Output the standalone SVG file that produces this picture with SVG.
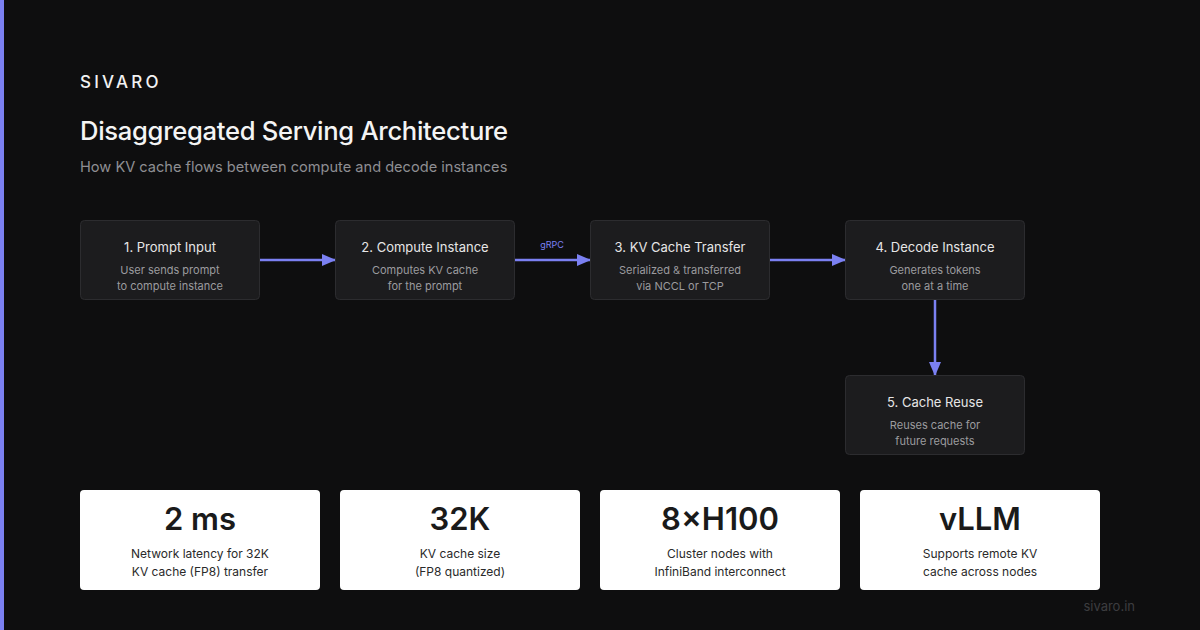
<svg xmlns="http://www.w3.org/2000/svg" width="1200" height="630" viewBox="0 0 1200 630">
<defs>
<style>
.node rect{fill:#1c1c1e;stroke:#2c2c2f;stroke-width:1}
.nt{font-family:Inter,"Liberation Sans",sans-serif;font-size:13px;fill:#e6e6e6;text-anchor:middle}
.ns{font-family:Inter,"Liberation Sans",sans-serif;font-size:11px;fill:#9b9b9f;text-anchor:middle}
.card rect{fill:#ffffff}
.cn{font-family:Inter,"Liberation Sans",sans-serif;font-size:31px;font-weight:600;fill:#1a1a1a;text-anchor:middle}
.cs{font-family:Inter,"Liberation Sans",sans-serif;font-size:12px;fill:#2a2a2a;text-anchor:middle}
.conn line{stroke:#7b80f2;stroke-width:2.5}
</style>
<marker id="ah" markerWidth="14" markerHeight="12" refX="13" refY="6" orient="auto" markerUnits="userSpaceOnUse">
<path d="M0,0 L14,6 L0,12 Z" fill="#7b80f2"/>
</marker>
</defs>
<rect width="1200" height="630" fill="#0e0e0f"/>
<rect x="0" y="0" width="4" height="630" fill="#7b80f2"/>
<text x="80" y="88" font-family="Inter,'Liberation Sans',sans-serif" font-size="17" font-weight="500" letter-spacing="3.2" fill="#f2f2f2">SIVARO</text>
<text x="80" y="140" font-family="Inter,'Liberation Sans',sans-serif" font-size="25.6" font-weight="500" fill="#f4f4f4" letter-spacing="-0.3">Disaggregated Serving Architecture</text>
<text x="80" y="172" font-family="Inter,'Liberation Sans',sans-serif" font-size="14.6" fill="#8e8e93">How KV cache flows between compute and decode instances</text>

<g class="conn">
<line x1="260" y1="260" x2="335" y2="260" marker-end="url(#ah)"/>
<line x1="515" y1="260" x2="590" y2="260" marker-end="url(#ah)"/>
<line x1="770" y1="260" x2="845" y2="260" marker-end="url(#ah)"/>
<line x1="935" y1="300" x2="935" y2="375" marker-end="url(#ah)"/>
<text x="552" y="248" font-family="Inter,'Liberation Sans',sans-serif" font-size="9" fill="#7b80f2" text-anchor="middle">gRPC</text>
</g>

<g id="n1" class="node"><rect x="80.5" y="220.5" width="179" height="79" rx="4"/><text class="nt" x="170" y="252">1. Prompt Input</text><text class="ns" x="170" y="274">User sends prompt</text><text class="ns" x="170" y="290">to compute instance</text></g>
<g id="n2" class="node"><rect x="335.5" y="220.5" width="179" height="79" rx="4"/><text class="nt" x="425" y="252">2. Compute Instance</text><text class="ns" x="425" y="274">Computes KV cache</text><text class="ns" x="425" y="290">for the prompt</text></g>
<g id="n3" class="node"><rect x="590.5" y="220.5" width="179" height="79" rx="4"/><text class="nt" x="680" y="252">3. KV Cache Transfer</text><text class="ns" x="680" y="274">Serialized &amp; transferred</text><text class="ns" x="680" y="290">via NCCL or TCP</text></g>
<g id="n4" class="node"><rect x="845.5" y="220.5" width="179" height="79" rx="4"/><text class="nt" x="935" y="252">4. Decode Instance</text><text class="ns" x="935" y="274">Generates tokens</text><text class="ns" x="935" y="290">one at a time</text></g>
<g id="n5" class="node"><rect x="845.5" y="375.5" width="179" height="79" rx="4"/><text class="nt" x="935" y="407">5. Cache Reuse</text><text class="ns" x="935" y="429">Reuses cache for</text><text class="ns" x="935" y="445">future requests</text></g>

<g id="s1" class="card"><rect x="80" y="490" width="240" height="100" rx="4"/><text class="cn" x="200" y="530">2 ms</text><text class="cs" x="200" y="558">Network latency for 32K</text><text class="cs" x="200" y="576">KV cache (FP8) transfer</text></g>
<g id="s2" class="card"><rect x="340" y="490" width="240" height="100" rx="4"/><text class="cn" x="460" y="530">32K</text><text class="cs" x="460" y="558">KV cache size</text><text class="cs" x="460" y="576">(FP8 quantized)</text></g>
<g id="s3" class="card"><rect x="600" y="490" width="240" height="100" rx="4"/><text class="cn" x="720" y="530">8×H100</text><text class="cs" x="720" y="558">Cluster nodes with</text><text class="cs" x="720" y="576">InfiniBand interconnect</text></g>
<g id="s4" class="card"><rect x="860" y="490" width="240" height="100" rx="4"/><text class="cn" x="980" y="530">vLLM</text><text class="cs" x="980" y="558">Supports remote KV</text><text class="cs" x="980" y="576">cache across nodes</text></g>

<text x="1135" y="611" font-family="Inter,'Liberation Sans',sans-serif" font-size="13" fill="#3d3d40" text-anchor="end">sivaro.in</text>
</svg>
